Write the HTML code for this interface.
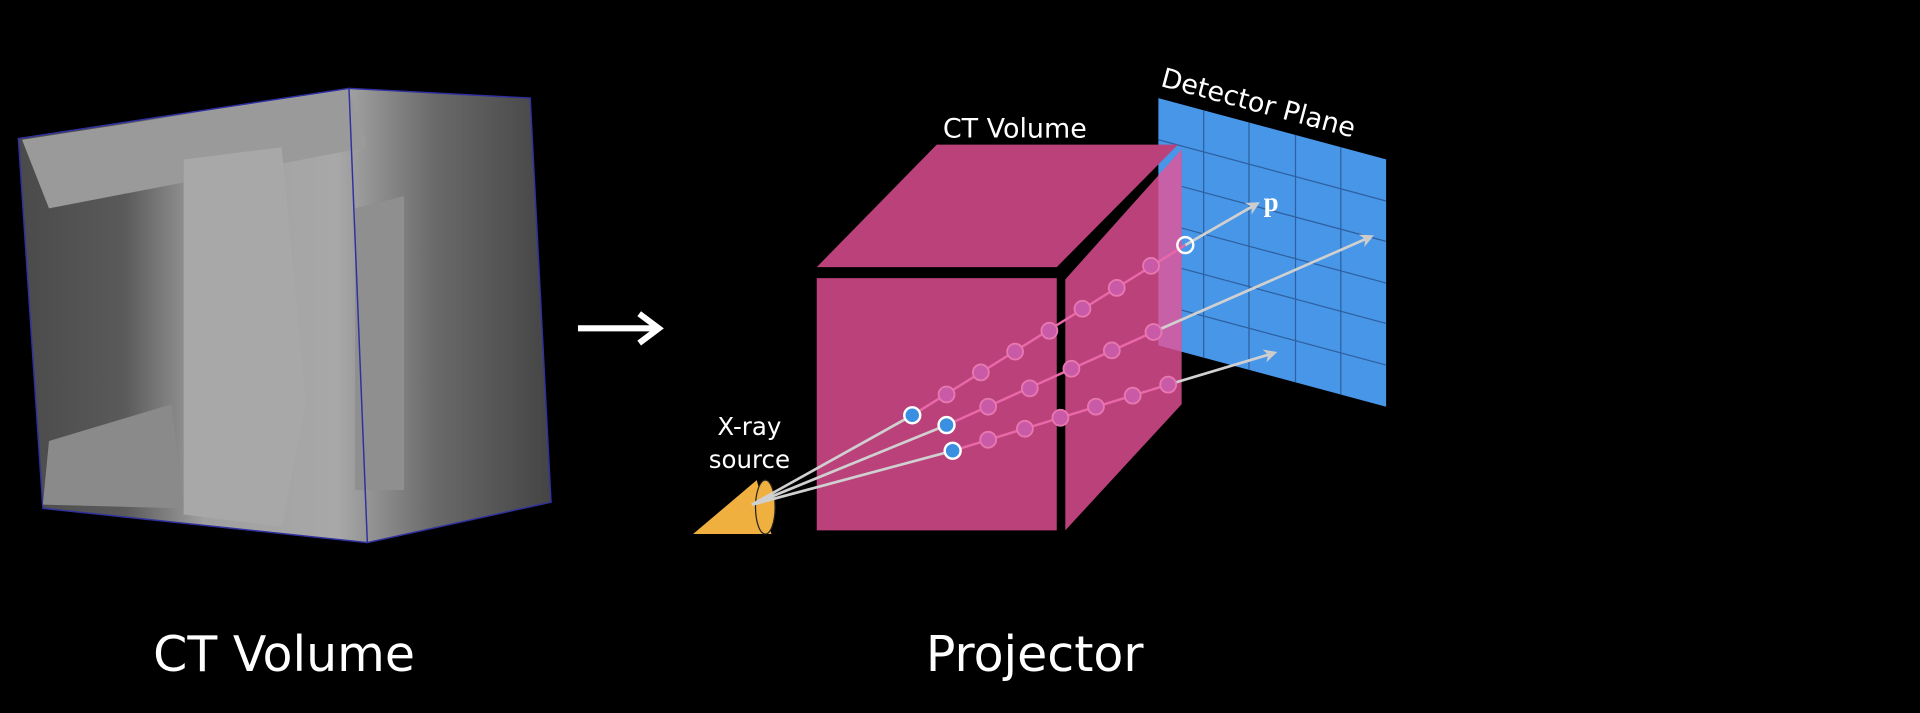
<!DOCTYPE html>
<html><head><meta charset="utf-8"><style>
html,body{margin:0;padding:0;background:#000;}
svg{display:block;}
text{font-family:"DejaVu Sans","Liberation Sans",sans-serif;fill:#fff;}
</style></head><body>
<svg width="1920" height="713" viewBox="0 0 1568 582" xmlns="http://www.w3.org/2000/svg">
<defs>
<linearGradient id="g1" x1="0" y1="0" x2="1" y2="0">
<stop offset="0" stop-color="#4a4a4a"/><stop offset="0.2" stop-color="#5a5a5a"/><stop offset="0.35" stop-color="#a0a0a0"/><stop offset="0.6" stop-color="#a8a8a8"/><stop offset="0.78" stop-color="#6a6a6a"/><stop offset="1" stop-color="#444"/>
</linearGradient>
<marker id="ah" viewBox="0 0 10 10" refX="8" refY="5" markerWidth="5" markerHeight="5" orient="auto"><path d="M0,0 L10,5 L0,10 L3,5 z" fill="#ccc"/></marker>
</defs>
<rect width="1568" height="582" fill="#000"/>
<!-- left CT cube -->
<polygon points="15,113 285,72 433,80 450,410 300,443 35,415" fill="url(#g1)" stroke="#3030a0" stroke-width="1.2"/>
<polygon points="18,114 285,73 300,120 40,170" fill="#9a9a9a"/>
<path d="M150,130 L230,120 L250,330 L230,430 L150,420 Z" fill="#a8a8a8"/>
<path d="M40,360 L140,330 L150,415 L35,412 Z" fill="#8a8a8a"/>
<path d="M290,170 L330,160 L330,400 L290,400 Z" fill="#8f8f8f"/>
<line x1="285" y1="72" x2="300" y2="443" stroke="#3030a0" stroke-width="1.2"/>
<!-- arrow -->
<line x1="472" y1="268" x2="536" y2="268" stroke="#fff" stroke-width="5"/>
<path d="M522,256 L538,268 L522,280" fill="none" stroke="#fff" stroke-width="5"/>
<!-- detector plane -->
<polygon points="946,80 1132,130 1132,332 946,282" fill="#4896e8"/>
<g stroke="#2e5f9e" stroke-width="1">
<line x1="983" y1="90" x2="983" y2="292"/><line x1="1020" y1="100" x2="1020" y2="302"/><line x1="1058" y1="110" x2="1058" y2="312"/><line x1="1095" y1="120" x2="1095" y2="322"/>
<line x1="946" y1="114" x2="1132" y2="164"/><line x1="946" y1="147" x2="1132" y2="197"/><line x1="946" y1="181" x2="1132" y2="231"/><line x1="946" y1="214" x2="1132" y2="264"/><line x1="946" y1="248" x2="1132" y2="298"/>
</g>
<text x="0" y="0" font-size="22" transform="translate(947,70) rotate(15)">Detector Plane</text>
<!-- pink cube -->
<polygon points="667,218 765,118 962,118 863,218" fill="#bb417b"/>
<polygon points="870,228 965,122 965,330 870,433" fill="#bb417b"/>
<polygon points="946,143 965,122 965,287 946,282" fill="#c860a8"/>
<rect x="667" y="227" width="196" height="206" fill="#bb417b"/>
<text x="770" y="112" font-size="22">CT Volume</text>
<!-- source -->
<polygon points="566,436 618,392 630,436" fill="#f0b040"/>
<ellipse cx="625" cy="414" rx="8" ry="22" fill="#f0b040" stroke="#222" stroke-width="1"/>
<text x="612" y="355" font-size="20" text-anchor="middle">X-ray</text>
<text x="612" y="382" font-size="20" text-anchor="middle">source</text>
<!-- rays -->
<g stroke="#d0d0d0" stroke-width="2.2" fill="none">
<line x1="614" y1="412" x2="745" y2="339"/><line x1="614" y1="412" x2="773" y2="347"/><line x1="614" y1="412" x2="778" y2="368"/>
<line x1="968" y1="200" x2="1027" y2="166" marker-end="url(#ah)"/>
<line x1="942" y1="271" x2="1120" y2="193" marker-end="url(#ah)"/>
<line x1="954" y1="314" x2="1041" y2="288" marker-end="url(#ah)"/>
</g>
<g stroke="#e868a8" stroke-width="2">
<line x1="745" y1="339" x2="968" y2="200"/><line x1="773" y1="347" x2="942" y2="271"/><line x1="778" y1="368" x2="954" y2="314"/>
</g>
<g fill="#c85aa8" stroke="#e878b0" stroke-width="1.5">
<circle cx="773" cy="322" r="6.5"/><circle cx="801" cy="304" r="6.5"/><circle cx="829" cy="287" r="6.5"/><circle cx="857" cy="270" r="6.5"/><circle cx="884" cy="252" r="6.5"/><circle cx="912" cy="235" r="6.5"/><circle cx="940" cy="217" r="6.5"/>
<circle cx="807" cy="332" r="6.5"/><circle cx="841" cy="317" r="6.5"/><circle cx="875" cy="301" r="6.5"/><circle cx="908" cy="286" r="6.5"/><circle cx="942" cy="271" r="6.5"/>
<circle cx="807" cy="359" r="6.5"/><circle cx="837" cy="350" r="6.5"/><circle cx="866" cy="341" r="6.5"/><circle cx="895" cy="332" r="6.5"/><circle cx="925" cy="323" r="6.5"/><circle cx="954" cy="314" r="6.5"/>
</g>
<circle cx="968" cy="200" r="6.5" fill="none" stroke="#fff" stroke-width="2"/>
<g fill="#3b8fe0" stroke="#fff" stroke-width="2">
<circle cx="745" cy="339" r="6.5"/><circle cx="773" cy="347" r="6.5"/><circle cx="778" cy="368" r="6.5"/>
</g>
<text x="1032" y="172" font-size="22" font-weight="bold" style="font-family:'Liberation Serif',serif">p</text>
<!-- captions -->
<text x="232" y="548" font-size="40" text-anchor="middle">CT Volume</text>
<text x="845" y="548" font-size="40" text-anchor="middle">Projector</text>
</svg>
</body></html>
